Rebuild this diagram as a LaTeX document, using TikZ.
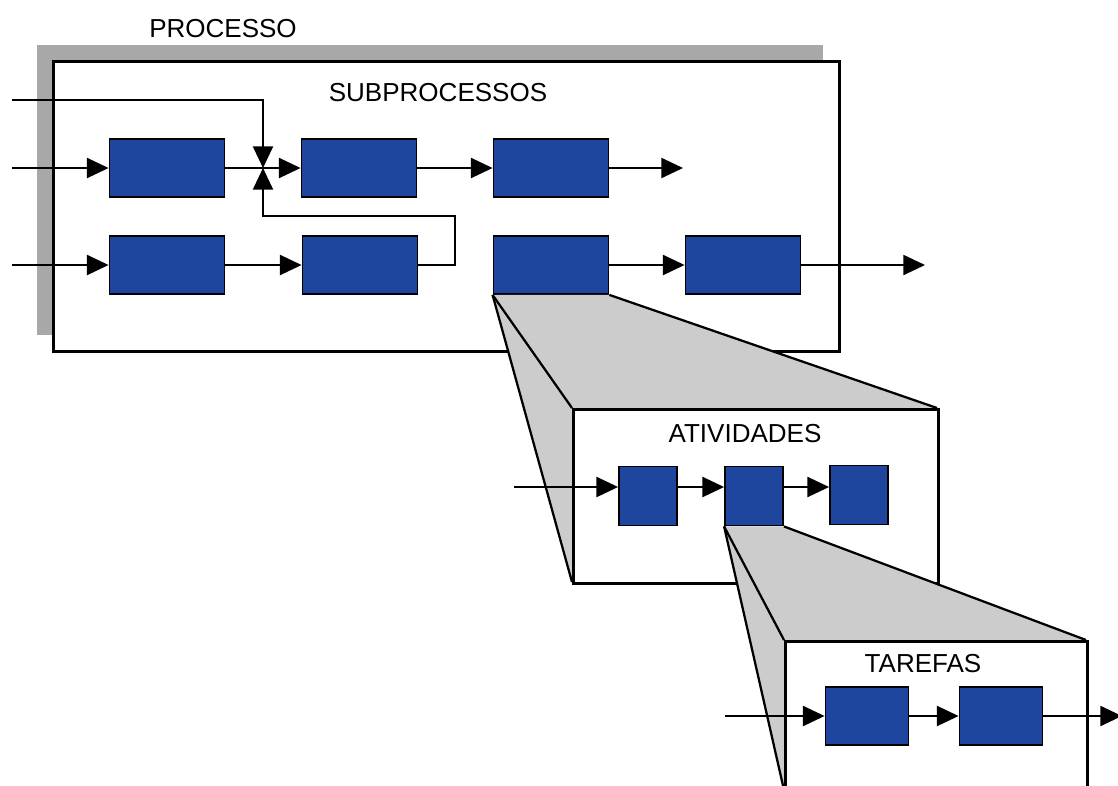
\documentclass[tikz,border=0pt]{standalone}
\usepackage{fontspec}
\setmainfont{Liberation Sans}
\usetikzlibrary{arrows.meta, positioning, calc}
\definecolor{boxblue}{RGB}{31,70,158}
\definecolor{shadegray}{RGB}{168,168,168}
\definecolor{projgray}{RGB}{204,204,204}

\begin{document}
\begin{tikzpicture}[x=0.025cm, y=-0.025cm,
  blk/.style={draw, line width=1.3pt, fill=boxblue, inner sep=0pt, minimum width=2.875cm, minimum height=1.45cm},
  sqblk/.style={blk, minimum width=1.45cm, minimum height=1.475cm},
  tskblk/.style={blk, minimum width=2.075cm, minimum height=1.45cm},
  frame/.style={draw, line width=1.8pt, fill=white, inner sep=0pt, anchor=north west},
  rim/.style={line width=1.6pt},
  arr/.style={line width=1.4pt, -{Triangle[length=0.54cm, width=0.5cm]}},
  lbl/.style={font=\fontsize{18.5}{20}\selectfont, inner sep=0pt},
]
\useasboundingbox (0,0) rectangle (1118,785);
\clip (0,0) rectangle (1118,785);

% Processo
\fill[shadegray] (37,45) rectangle (823,335);
\node[frame, minimum width=19.65cm, minimum height=7.25cm] (proc) at (52,60) {};
\node[lbl] (proclbl) at (223,29) {PROCESSO};
\node[lbl] (sublbl) at (438,93) {SUBPROCESSOS};

% Subprocessos
\node[blk] (A) at (167,168) {};
\node[blk] (B) at (359,168) {};
\node[blk] (C) at (551,168) {};
\node[blk] (D) at (167,265) {};
\node[blk] (E) at (360,265) {};
\node[blk] (F) at (551,265) {};
\node[blk] (G) at (743,265) {};

\coordinate (in1) at (12,100);
\coordinate (in2) at (12,168);
\coordinate (in3) at (12,265);
\coordinate (merge) at (263,168);
\coordinate (loop) at (455,216);
\coordinate (out1) at (683,168);
\coordinate (out2) at (925,265);

\draw[arr] (in1) -| (merge);
\draw[arr] (E.east) -| (loop) -| (merge);
\draw[arr] (in2) -- (A);
\draw[arr] (A) -- (B);
\draw[arr] (B) -- (C);
\draw[arr] (C) -- (out1);
\draw[arr] (in3) -- (D);
\draw[arr] (D) -- (E);
\draw[arr] (F) -- (G);
\draw[arr] (G) -- (out2);

% Atividades
\coordinate (actnw) at (572,408);
\coordinate (actne) at (937,408);
\coordinate (actsw) at (572,582);
\fill[projgray] (F.south west) -- (F.south east) -- (actne) -- (actnw) -- (actsw) -- cycle;
\draw[rim] (F.south west) -- (actnw);
\draw[rim] (F.south west) -- (actsw);
\draw[rim] (F.south east) -- (actne);
\node[frame, minimum width=9.125cm, minimum height=4.35cm] (act) at (actnw) {};
\node[lbl] (actlbl) at (745,434) {ATIVIDADES};

\node[sqblk] (a1) at (648,496) {};
\node[sqblk] (a2) at (754,496) {};
\node[sqblk] (a3) at (859,495) {};
\coordinate (ain) at (514,487);
\draw[arr] (ain) -- (a1.west |- ain);
\draw[arr] (a1.east |- ain) -- (a2.west |- ain);
\draw[arr] (a2.east |- ain) -- (a3.west |- ain);

% Tarefas
\coordinate (tarnw) at (784,640);
\coordinate (tarne) at (1086,640);
\coordinate (tarsw) at (784,790);
\fill[projgray] (a2.south west) -- (a2.south east) -- (tarne) -- (tarnw) -- (tarsw) -- cycle;
\draw[rim] (a2.south west) -- (tarnw);
\draw[rim] (a2.south west) -- (tarsw);
\draw[rim] (a2.south east) -- (tarne);
\node[frame, minimum width=7.55cm, minimum height=3.75cm] (tar) at (tarnw) {};
\node[lbl] (tarlbl) at (923,664) {TAREFAS};

\node[tskblk] (t1) at (867,716) {};
\node[tskblk] (t2) at (1001,716) {};
\coordinate (tin) at (725,716);
\coordinate (tout) at (1122,716);
\draw[arr] (tin) -- (t1);
\draw[arr] (t1) -- (t2);
\draw[arr] (t2) -- (tout);
\end{tikzpicture}
\end{document}
